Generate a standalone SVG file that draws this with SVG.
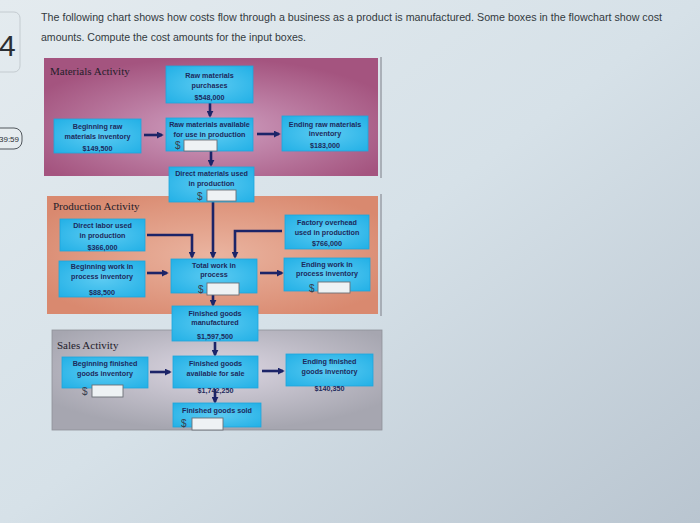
<svg xmlns="http://www.w3.org/2000/svg" width="700" height="523" viewBox="0 0 700 523">
<defs>
<linearGradient id="bg" x1="0" y1="0" x2="1" y2="1">
<stop offset="0" stop-color="#e4ebef"/>
<stop offset="0.5" stop-color="#d6e1e8"/>
<stop offset="1" stop-color="#b9c5d0"/>
</linearGradient>
<radialGradient id="gMat" cx="0.5" cy="0.6" r="0.6">
<stop offset="0" stop-color="#cf9fc0"/>
<stop offset="1" stop-color="#a4547f"/>
</radialGradient>
<radialGradient id="gProd" cx="0.5" cy="0.5" r="0.6">
<stop offset="0" stop-color="#eab4a0"/>
<stop offset="1" stop-color="#d9896f"/>
</radialGradient>
<radialGradient id="gSales" cx="0.5" cy="0.4" r="0.6">
<stop offset="0" stop-color="#dcd6e2"/>
<stop offset="1" stop-color="#a6a6b0"/>
</radialGradient>
<radialGradient id="gBox" cx="0.5" cy="0.5" r="0.7">
<stop offset="0" stop-color="#5ccbf2"/>
<stop offset="1" stop-color="#22b0e6"/>
</radialGradient>
<marker id="ah" viewBox="0 0 8 8" markerWidth="7" markerHeight="7" refX="6" refY="4" orient="auto" markerUnits="userSpaceOnUse">
<path d="M0,0 L8,4 L0,8 z" fill="#1c2468"/>
</marker>
<style>
.q{font-family:"Liberation Sans",Arial,sans-serif;font-size:10.5px;fill:#333a40}
.ptitle{font-family:"Liberation Serif","Times New Roman",serif;font-size:11px;fill:#24202a}
.box{fill:url(#gBox);stroke:#1ea6dc;stroke-width:0.8}
.bt{font-family:"Liberation Sans",Arial,sans-serif;font-weight:bold;font-size:7.2px;fill:#1d2a5c;text-anchor:middle}
.dol{font-family:"Liberation Sans",Arial,sans-serif;font-size:10px;fill:#3a4050}
.inp{fill:#eef2f4;stroke:#6a6f76;stroke-width:0.9}
.c{fill:none;stroke:#1c2468;stroke-width:2.6;marker-end:url(#ah)}
.edge{stroke:#8a8e96;stroke-width:1.2}
</style>
</defs>
<rect x="0" y="0" width="700" height="523" fill="url(#bg)"/>

<!-- question header -->
<g id="header">
<rect x="-10" y="12" width="30" height="60" rx="6" fill="none" stroke="#c4cbd0" stroke-width="1"/>
<text x="-1" y="56" font-family="Liberation Sans,Arial,sans-serif" font-size="30" fill="#2a2e33">4</text>
<text class="q" x="41" y="21" textLength="621" lengthAdjust="spacingAndGlyphs">The following chart shows how costs flow through a business as a product is manufactured. Some boxes in the flowchart show cost</text>
<text class="q" x="41" y="41" textLength="265" lengthAdjust="spacingAndGlyphs">amounts. Compute the cost amounts for the input boxes.</text>
</g>
<g id="timer">
<rect x="-12" y="128" width="34" height="21" rx="8" fill="#e6ecef" stroke="#50565c" stroke-width="1"/>
<text x="-1" y="142" font-family="Liberation Sans,Arial,sans-serif" font-size="8" fill="#2a2e33">39:59</text>
</g>

<!-- panels -->
<g id="panel-materials">
<rect x="44" y="58" width="334" height="118" fill="url(#gMat)"/>
<line class="edge" x1="381" y1="57" x2="381" y2="178"/>
<text class="ptitle" x="50" y="75">Materials Activity</text>
</g>
<g id="panel-production">
<rect x="47" y="196" width="331" height="118" fill="url(#gProd)"/>
<line class="edge" x1="381" y1="194" x2="381" y2="316"/>
<text class="ptitle" x="53" y="210">Production Activity</text>
</g>
<g id="panel-sales">
<rect x="52" y="330" width="330" height="100" fill="url(#gSales)" stroke="#8f929a" stroke-width="0.8"/>
<text class="ptitle" x="57" y="349">Sales Activity</text>
</g>

<!-- connectors -->
<g id="connectors">
<line class="c" x1="210" y1="103" x2="210" y2="116"/>
<line class="c" x1="144" y1="135" x2="162" y2="135"/>
<line class="c" x1="257" y1="134" x2="279" y2="134"/>
<line class="c" x1="211" y1="151" x2="211" y2="165"/>
<polyline class="c" points="147,235 192,235 192,257"/>
<line class="c" x1="213" y1="202" x2="213" y2="257"/>
<polyline class="c" points="282,231 235,231 235,257"/>
<line class="c" x1="147" y1="273" x2="167" y2="273"/>
<line class="c" x1="260" y1="273" x2="282" y2="273"/>
<line class="c" x1="213" y1="295" x2="213" y2="305"/>
<line class="c" x1="215" y1="342" x2="215" y2="355"/>
<line class="c" x1="150" y1="372" x2="170" y2="372"/>
<line class="c" x1="262" y1="371" x2="283" y2="371"/>
<line class="c" x1="215" y1="389" x2="215" y2="402"/>
</g>

<!-- nodes -->
<g id="rm-purchases">
<rect class="box" x="166" y="66" width="87" height="37"/>
<text class="bt" x="209.5" y="78">Raw materials</text>
<text class="bt" x="209.5" y="88">purchases</text>
<text class="bt" x="209.5" y="100">$548,000</text>
</g>
<g id="beg-rm">
<rect class="box" x="54" y="119" width="87" height="34"/>
<text class="bt" x="97.5" y="128.5">Beginning raw</text>
<text class="bt" x="97.5" y="138.5">materials inventory</text>
<text class="bt" x="97.5" y="150.5">$149,500</text>
</g>
<g id="rm-available">
<rect class="box" x="166" y="118" width="87" height="33"/>
<text class="bt" x="209.5" y="126.5">Raw materials available</text>
<text class="bt" x="209.5" y="136.5">for use in production</text>
<text class="dol" x="175" y="149">$</text>
<rect class="inp" x="184" y="140" width="33" height="11"/>
</g>
<g id="end-rm">
<rect class="box" x="282" y="116" width="86" height="35"/>
<text class="bt" x="325" y="126.5">Ending raw materials</text>
<text class="bt" x="325" y="136">inventory</text>
<text class="bt" x="325" y="147.5">$183,000</text>
</g>
<g id="dm-used">
<rect class="box" x="169" y="167" width="85" height="35"/>
<text class="bt" x="211.5" y="175.5">Direct materials used</text>
<text class="bt" x="211.5" y="185.5">in production</text>
<text class="dol" x="197" y="200">$</text>
<rect class="inp" x="207" y="190" width="29" height="11"/>
</g>
<g id="dl-used">
<rect class="box" x="60" y="219" width="85" height="32"/>
<text class="bt" x="102.5" y="227.5">Direct labor used</text>
<text class="bt" x="102.5" y="237.5">in production</text>
<text class="bt" x="102.5" y="249.5">$366,000</text>
</g>
<g id="fo-used">
<rect class="box" x="285" y="215" width="84" height="34"/>
<text class="bt" x="327" y="224.5">Factory overhead</text>
<text class="bt" x="327" y="234.5">used in production</text>
<text class="bt" x="327" y="245.5">$766,000</text>
</g>
<g id="beg-wip">
<rect class="box" x="59" y="261" width="86" height="36"/>
<text class="bt" x="102" y="268.5">Beginning work in</text>
<text class="bt" x="102" y="278.5">process inventory</text>
<text class="bt" x="102" y="294.5">$88,500</text>
</g>
<g id="total-wip">
<rect class="box" x="171" y="259" width="86" height="34"/>
<text class="bt" x="214" y="267.5">Total work in</text>
<text class="bt" x="214" y="276.5">process</text>
<text class="dol" x="198" y="293">$</text>
<rect class="inp" x="207" y="283" width="32" height="12"/>
</g>
<g id="end-wip">
<rect class="box" x="284" y="258" width="86" height="33"/>
<text class="bt" x="327" y="266.5">Ending work in</text>
<text class="bt" x="327" y="275.5">process inventory</text>
<text class="dol" x="309" y="292">$</text>
<rect class="inp" x="318" y="282" width="32" height="11"/>
</g>
<g id="fg-manufactured">
<rect class="box" x="172" y="306" width="86" height="35"/>
<text class="bt" x="215" y="315.5">Finished goods</text>
<text class="bt" x="215" y="324.5">manufactured</text>
<text class="bt" x="215" y="339">$1,597,500</text>
</g>
<g id="beg-fg">
<rect class="box" x="62" y="357" width="86" height="31"/>
<text class="bt" x="105" y="365.5">Beginning finished</text>
<text class="bt" x="105" y="375.5">goods inventory</text>
<text class="dol" x="82" y="395">$</text>
<rect class="inp" x="92" y="385" width="31" height="12"/>
</g>
<g id="fg-available">
<rect class="box" x="173" y="356" width="85" height="32"/>
<text class="bt" x="215.5" y="365.5">Finished goods</text>
<text class="bt" x="215.5" y="375.5">available for sale</text>
<text class="bt" x="215.5" y="393">$1,742,250</text>
</g>
<g id="end-fg">
<rect class="box" x="286" y="354" width="87" height="32"/>
<text class="bt" x="329.5" y="363.5">Ending finished</text>
<text class="bt" x="329.5" y="373.5">goods inventory</text>
<text class="bt" x="329.5" y="391">$140,350</text>
</g>
<g id="fg-sold">
<rect class="box" x="173" y="403" width="88" height="24"/>
<text class="bt" x="217" y="412.5">Finished goods sold</text>
<text class="dol" x="181" y="427">$</text>
<rect class="inp" x="192" y="418" width="31" height="12"/>
</g>
</svg>
